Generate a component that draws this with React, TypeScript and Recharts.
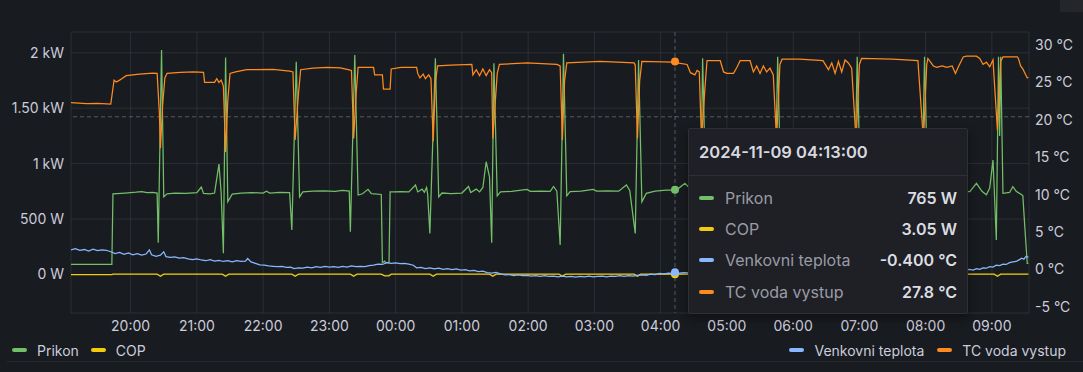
import React from 'react';
import { LineChart, Line, XAxis, YAxis, CartesianGrid, Tooltip, Legend, ReferenceLine } from 'recharts';

// ---------- time frame ----------
const BASE_DAY = [2024, 11, 8];
const BASE_HOUR = 19;
const X_DOMAIN_START = '19:06';
const X_DOMAIN_END_MIN = 873.6;

// ---------- axes ----------
const hourLabels = ['20:00', '21:00', '22:00', '23:00', '00:00', '01:00', '02:00', '03:00', '04:00', '05:00', '06:00', '07:00', '08:00', '09:00'];
const powerTicks = [0, 500, 1000, 1500, 2000];
const powerTickLabels = ['0 W', '500 W', '1 kW', '1.50 kW', '2 kW'];
const powerDomain = [-347, 2187];
const tempTicks = [-5, 0, 5, 10, 15, 20, 25, 30];
const tempTickLabels = ['-5 °C', '0 °C', '5 °C', '10 °C', '15 °C', '20 °C', '25 °C', '30 °C'];
const tempDomain = [-5.84, 31.74];

// ---------- cursor ----------
const cursorTime = '04:13';
const cursorTemp = 20.4;

// ---------- series ----------
const prikon: [string, number][] = [
  ['19:06', 92], ['19:43', 92], ['19:44', 728], ['19:55', 735], ['20:05', 742], ['20:10', 748], ['20:15', 738], ['20:20', 740],
  ['20:24', 735], ['20:25', 287], ['20:28', 2024], ['20:30', 700], ['20:33', 728], ['20:40', 735], ['20:50', 732], ['21:00', 738],
  ['21:04', 788], ['21:06', 732], ['21:12', 728], ['21:16', 735], ['21:20', 996], ['21:22', 735], ['21:24', 191], ['21:26', 1958],
  ['21:28', 656], ['21:32', 725], ['21:40', 735], ['21:50', 738], ['22:00', 735], ['22:03', 752], ['22:06', 735], ['22:15', 740],
  ['22:24', 738], ['22:26', 401], ['22:30', 1919], ['22:33', 700], ['22:36', 745], ['22:45', 752], ['22:55', 755], ['23:05', 750],
  ['23:12', 758], ['23:18', 752], ['23:19', 386], ['23:23', 1979], ['23:26', 717], ['23:30', 728], ['23:35', 768], ['23:38', 730],
  ['23:47', 722], ['23:48', 107], ['23:50', 120], ['23:51', 107], ['23:54', 107], ['23:55', 745], ['23:58', 745], ['00:05', 748],
  ['00:12', 745], ['00:18', 807], ['00:20', 745], ['00:24', 770], ['00:26', 742], ['00:28', 785], ['00:29', 725], ['00:31', 371],
  ['00:36', 1950], ['00:39', 700], ['00:42', 735], ['00:50', 730], ['01:00', 735], ['01:06', 794], ['01:08', 740], ['01:13', 770],
  ['01:16', 745], ['01:19', 785], ['01:22', 1017], ['01:25', 880], ['01:27', 287], ['01:29', 1904], ['01:32', 710], ['01:35', 745],
  ['01:45', 750], ['01:59', 768], ['02:02', 750], ['02:12', 752], ['02:20', 750], ['02:23', 794], ['02:26', 752], ['02:29', 266],
  ['02:32', 1990], ['02:35', 710], ['02:38', 748], ['02:48', 752], ['02:59', 768], ['03:02', 752], ['03:12', 755], ['03:22', 752],
  ['03:29', 807], ['03:32', 758], ['03:37', 371], ['03:40', 1934], ['03:43', 656], ['03:47', 732], ['03:55', 752], ['04:05', 760],
  ['04:11', 762], ['04:13', 765], ['04:16', 775], ['04:22', 822], ['04:28', 760], ['04:34', 745], ['04:36', 400], ['04:38', 1950],
  ['04:41', 700], ['04:45', 740], ['04:55', 780], ['05:05', 750], ['05:15', 770], ['05:25', 745], ['05:35', 780], ['05:43', 380],
  ['05:46', 1964], ['05:49', 690], ['05:55', 740], ['06:10', 755], ['06:25', 750], ['06:35', 790], ['06:45', 760], ['06:55', 380],
  ['06:58', 1964], ['07:01', 690], ['07:10', 745], ['07:25', 755], ['07:40', 750], ['07:50', 760], ['07:56', 380], ['07:59', 1964],
  ['08:02', 690], ['08:10', 760], ['08:20', 780], ['08:30', 750], ['08:40', 747], ['08:46', 822], ['08:51', 750], ['08:55', 720],
  ['08:58', 780], ['09:01', 1032], ['09:02', 800], ['09:04', 311], ['09:06', 1964], ['09:07', 1250], ['09:08', 1964], ['09:10', 732],
  ['09:16', 740], ['09:19', 792], ['09:22', 750], ['09:27', 720], ['09:28', 712], ['09:30', 400], ['09:32', 101], ['09:33', 101],
];

const cop: [string, number][] = [
  ['19:06', 0], ['19:43', 0], ['19:44', 3.1], ['20:24', 3.1], ['20:27', -15], ['20:30', 3.0], ['21:23', 3.0], ['21:26', -15],
  ['21:29', 3.1], ['22:26', 3.0], ['22:29', -15], ['22:32', 3.0], ['23:19', 3.1], ['23:22', -15], ['23:25', 3.0], ['23:47', 3.0],
  ['23:50', -12], ['23:54', -12], ['23:56', 3.0], ['00:31', 3.1], ['00:34', -15], ['00:37', 3.0], ['01:25', 3.0], ['01:28', -15],
  ['01:31', 3.1], ['02:28', 3.0], ['02:31', -15], ['02:34', 3.0], ['03:36', 3.1], ['03:39', -15], ['03:42', 3.0], ['04:13', 3.05],
  ['04:34', 3.0], ['04:37', -15], ['04:40', 3.0], ['05:42', 3.1], ['05:45', -15], ['05:48', 3.0], ['06:54', 3.0], ['06:57', -15],
  ['07:00', 3.1], ['07:55', 3.0], ['07:58', -15], ['08:01', 3.0], ['09:02', 3.1], ['09:05', -15], ['09:08', 3.0], ['09:33', 3.0],
];

const venkovni: [string, number][] = [
  ['19:06', 2.6], ['19:10', 2.75], ['19:14', 2.55], ['19:18', 2.65], ['19:22', 2.45], ['19:26', 2.7], ['19:30', 2.5], ['19:34', 2.6],
  ['19:38', 2.55], ['19:42', 2.35], ['19:46', 2.1], ['19:50', 2.25], ['19:54', 2.0], ['19:58', 2.2], ['20:02', 1.95], ['20:06', 2.1],
  ['20:10', 1.9], ['20:14', 2.05], ['20:17', 2.6], ['20:19', 1.95], ['20:23', 1.75], ['20:27', 1.9], ['20:30', 2.35], ['20:32', 1.7],
  ['20:36', 1.6], ['20:40', 1.65], ['20:44', 1.5], ['20:48', 1.55], ['20:52', 1.4], ['20:56', 1.3], ['21:00', 1.4], ['21:04', 1.25],
  ['21:08', 1.15], ['21:12', 1.3], ['21:16', 1.1], ['21:20', 1.2], ['21:24', 1.05], ['21:28', 1.15], ['21:32', 1.0], ['21:36', 1.15],
  ['21:40', 1.05], ['21:44', 1.1], ['21:46', 1.45], ['21:49', 1.0], ['21:53', 0.8], ['21:57', 0.6], ['22:01', 0.55], ['22:05', 0.45],
  ['22:09', 0.4], ['22:13', 0.35], ['22:17', 0.4], ['22:21', 0.25], ['22:25', 0.3], ['22:28', 0.1], ['22:32', 0.2], ['22:36', 0.15],
  ['22:40', 0.3], ['22:44', 0.2], ['22:48', 0.35], ['22:52', 0.25], ['22:56', 0.4], ['23:00', 0.3], ['23:04', 0.35], ['23:08', 0.25],
  ['23:12', 0.4], ['23:16', 0.3], ['23:20', 0.45], ['23:24', 0.35], ['23:28', 0.4], ['23:32', 0.35], ['23:36', 0.5], ['23:40', 0.55],
  ['23:44', 0.7], ['23:48', 0.65], ['23:52', 0.9], ['23:56', 0.8], ['00:00', 0.85], ['00:04', 0.75], ['00:08', 0.8], ['00:12', 0.7],
  ['00:16', 0.55], ['00:19', 0.2], ['00:23', 0.25], ['00:27', 0.1], ['00:31', 0.2], ['00:35', 0.05], ['00:39', 0.15], ['00:43', 0.0],
  ['00:47', 0.1], ['00:51', -0.05], ['00:55', 0.05], ['00:59', -0.1], ['01:03', -0.05], ['01:07', -0.2], ['01:11', -0.15], ['01:15', -0.3],
  ['01:19', -0.25], ['01:23', -0.45], ['01:27', -0.5], ['01:31', -0.4], ['01:35', -0.6], ['01:39', -0.75], ['01:43', -0.7], ['01:47', -0.85],
  ['01:51', -0.75], ['01:55', -0.85], ['01:59', -0.8], ['02:03', -0.9], ['02:07', -0.85], ['02:11', -0.95], ['02:15', -0.85], ['02:19', -0.95],
  ['02:23', -0.9], ['02:27', -1.0], ['02:31', -0.9], ['02:35', -1.0], ['02:39', -0.95], ['02:43', -1.05], ['02:47', -0.95], ['02:51', -1.0],
  ['02:55', -0.9], ['02:59', -1.0], ['03:03', -0.95], ['03:07', -0.9], ['03:11', -1.0], ['03:15', -0.9], ['03:19', -0.95], ['03:23', -0.85],
  ['03:27', -0.95], ['03:31', -0.85], ['03:35', -0.9], ['03:39', -0.8], ['03:43', -0.75], ['03:47', -0.8], ['03:51', -0.65], ['03:55', -0.7],
  ['03:59', -0.55], ['04:03', -0.6], ['04:07', -0.5], ['04:10', -0.55], ['04:13', -0.4], ['04:17', -0.5], ['04:21', -0.45], ['04:30', -0.5],
  ['04:45', -0.4], ['05:00', -0.45], ['05:15', -0.35], ['05:30', -0.4], ['05:45', -0.3], ['06:00', -0.35], ['06:15', -0.25], ['06:30', -0.3],
  ['06:45', -0.2], ['07:00', -0.25], ['07:15', -0.15], ['07:30', -0.2], ['07:45', -0.1], ['08:00', -0.15], ['08:15', -0.05], ['08:30', -0.1],
  ['08:40', 0.0], ['08:43', -0.1], ['08:46', 0.1], ['08:49', 0.0], ['08:52', 0.2], ['08:55', 0.15], ['08:58', 0.35], ['09:01', 0.3],
  ['09:04', 0.55], ['09:07', 0.5], ['09:10', 0.7], ['09:13', 0.65], ['09:16', 0.9], ['09:19', 1.0], ['09:22', 1.05], ['09:25', 1.3],
  ['09:27', 1.5], ['09:29', 1.35], ['09:31', 1.75], ['09:33', 1.6],
];

const tcVoda: [string, number][] = [
  ['19:06', 22.3], ['19:20', 22.15], ['19:30', 22.2], ['19:42', 22.1], ['19:45', 25.3], ['19:47', 25.05], ['19:50', 25.3], ['19:56', 25.9],
  ['20:08', 26.1], ['20:20', 26.25], ['20:24', 26.2], ['20:26', 21.0], ['20:27', 16.2], ['20:29', 22.0], ['20:31', 25.6], ['20:33', 26.2],
  ['20:45', 26.35], ['20:57', 26.4], ['21:06', 26.35], ['21:07', 25.0], ['21:16', 25.0], ['21:18', 25.5], ['21:20', 25.0], ['21:22', 25.3],
  ['21:24', 24.5], ['21:26', 15.7], ['21:28', 22.6], ['21:30', 26.2], ['21:35', 26.4], ['21:45', 26.7], ['22:09', 26.75], ['22:24', 26.5],
  ['22:27', 26.4], ['22:29', 17.3], ['22:32', 23.5], ['22:34', 26.7], ['22:45', 26.9], ['22:58', 27.0], ['23:10', 26.95], ['23:17', 26.7],
  ['23:20', 26.6], ['23:22', 17.5], ['23:24', 23.0], ['23:26', 27.0], ['23:40', 27.0], ['23:41', 26.0], ['23:48', 26.0], ['23:49', 24.1],
  ['23:55', 24.1], ['23:56', 26.8], ['00:05', 27.0], ['00:19', 27.0], ['00:20', 26.2], ['00:22', 25.6], ['00:25', 26.1], ['00:27', 25.5],
  ['00:30', 26.0], ['00:32', 25.5], ['00:34', 17.1], ['00:36', 25.0], ['00:38', 27.2], ['00:50', 27.3], ['01:09', 27.4], ['01:10', 26.0],
  ['01:13', 26.7], ['01:16', 25.9], ['01:19', 26.8], ['01:22', 25.9], ['01:25', 26.7], ['01:27', 26.3], ['01:28', 17.5], ['01:32', 26.2],
  ['01:34', 27.4], ['01:59', 27.6], ['02:26', 27.4], ['02:29', 27.2], ['02:31', 17.3], ['02:33', 25.2], ['02:35', 27.6], ['03:05', 27.8],
  ['03:36', 27.6], ['03:37', 27.3], ['03:39', 17.5], ['03:41', 25.2], ['03:43', 27.8], ['04:11', 27.7], ['04:13', 27.8], ['04:15', 27.6],
  ['04:24', 27.4], ['04:27', 26.3], ['04:31', 26.0], ['04:33', 26.6], ['04:35', 26.4], ['04:37', 17.3], ['04:40', 24.0], ['04:42', 27.9],
  ['04:54', 27.9], ['04:57', 26.4], ['05:00', 26.2], ['05:06', 26.2], ['05:09', 27.0], ['05:12', 27.9], ['05:21', 27.9], ['05:24', 26.4],
  ['05:27', 27.2], ['05:30', 26.2], ['05:33', 27.2], ['05:36', 26.4], ['05:39', 26.9], ['05:42', 26.0], ['05:45', 17.2], ['05:48', 27.4],
  ['05:50', 28.1], ['06:06', 28.1], ['06:27', 27.9], ['06:32', 26.7], ['06:35', 27.6], ['06:38', 26.2], ['06:41', 27.8], ['06:44', 26.4],
  ['06:47', 28.0], ['06:50', 27.6], ['06:53', 26.9], ['06:57', 17.2], ['07:00', 27.4], ['07:02', 28.2], ['07:30', 28.1], ['07:53', 27.9],
  ['07:58', 17.2], ['08:01', 27.4], ['08:02', 28.2], ['08:07', 27.2], ['08:10', 27.0], ['08:15', 27.2], ['08:19', 27.0], ['08:24', 27.2],
  ['08:27', 26.2], ['08:30', 27.2], ['08:34', 28.4], ['08:37', 28.5], ['08:46', 28.5], ['08:49', 28.2], ['08:52', 27.4], ['08:55', 27.7],
  ['08:58', 27.1], ['09:01', 28.0], ['09:05', 18.6], ['09:08', 27.8], ['09:10', 28.4], ['09:23', 28.4], ['09:24', 28.2], ['09:26', 27.2],
  ['09:28', 26.8], ['09:32', 25.6], ['09:33', 25.7],
];

// ---------- styling ----------
const BG = '#181b1f';
const TEXT = '#ccccdc';
const GRID = 'rgba(204,204,220,0.11)';

const seriesDefs = [
  { key: 'prikon', name: 'Prikon', color: '#73BF69', axis: 'power', unit: 'W', values: prikon },
  { key: 'cop', name: 'COP', color: '#F2CC0C', axis: 'power', unit: 'W', values: cop },
  { key: 'venkovni', name: 'Venkovni teplota', color: '#8AB8FF', axis: 'temp', unit: '°C', values: venkovni },
  { key: 'tc', name: 'TC voda vystup', color: '#FF8A1F', axis: 'temp', unit: '°C', values: tcVoda },
];

function toMin(s: string): number {
  const [h, m] = s.split(':').map(Number);
  const hh = h < BASE_HOUR ? h + 24 : h;
  return (hh - BASE_HOUR) * 60 + m;
}

const table = (() => {
  const map = new Map<number, any>();
  seriesDefs.forEach((s) => {
    s.values.forEach(([time, v]) => {
      const t = toMin(time);
      if (!map.has(t)) map.set(t, { t });
      map.get(t)[s.key] = v;
    });
  });
  return Array.from(map.values()).sort((a, b) => a.t - b.t);
})();

const cursorIndex = table.findIndex((r) => r.t === toMin(cursorTime));
const hourTicks = hourLabels.map(toMin);

const pad = (n: number) => String(n).padStart(2, '0');
function fmtDate(t: number): string {
  const d = new Date(Date.UTC(BASE_DAY[0], BASE_DAY[1] - 1, BASE_DAY[2]) + (BASE_HOUR * 60 + t) * 60000);
  return `${d.getUTCFullYear()}-${pad(d.getUTCMonth() + 1)}-${pad(d.getUTCDate())} ${pad(d.getUTCHours())}:${pad(d.getUTCMinutes())}:00`;
}
function fmtVal(v: number, unit: string): string {
  if (unit === 'W' && Math.abs(v) >= 1000) return `${(v / 1000).toPrecision(3)} kW`;
  return `${Number(v).toPrecision(3)} ${unit}`;
}

const Marker = ({ color }: { color: string }) => (
  <span style={{ display: 'inline-block', width: 15, height: 4, borderRadius: 2, background: color }} />
);

const renderTooltip = (props: any) => {
  const { payload } = props;
  if (!payload || !payload.length) return null;
  const t = payload[0].payload.t;
  return (
    <div style={{ width: 280, height: 186, background: '#1e2025', border: '1px solid #2d3036', borderRadius: 2, boxSizing: 'border-box', fontFamily: 'Inter, sans-serif', boxShadow: '0 4px 8px rgba(0,0,0,0.4)' }}>
      <div style={{ height: 46, lineHeight: '46px', paddingLeft: 10, fontSize: 16.5, fontWeight: 600, color: '#d8d9e0', borderBottom: '1px solid #2d3036' }}>
        {fmtDate(t)}
      </div>
      <div style={{ paddingTop: 6, paddingLeft: 10, paddingRight: 10 }}>
        {seriesDefs.map((s) => {
          const entry = payload.find((p: any) => p.dataKey === s.key);
          const v = entry ? entry.value : undefined;
          return (
            <div key={s.key} style={{ height: 31.3, display: 'flex', alignItems: 'center', fontSize: 16 }}>
              <Marker color={s.color} />
              <span style={{ marginLeft: 11, color: '#9a9ba5', flex: 1 }}>{s.name}</span>
              <span style={{ color: '#dcdde3', fontWeight: 600 }}>{v === undefined ? '' : fmtVal(v, s.unit)}</span>
            </div>
          );
        })}
      </div>
    </div>
  );
};

const renderLegend = () => {
  const item = (s: any, ml: number) => (
    <div key={s.key} style={{ display: 'flex', alignItems: 'center', marginLeft: ml }}>
      <Marker color={s.color} />
      <span style={{ marginLeft: 10, color: TEXT, fontSize: 14 }}>{s.name}</span>
    </div>
  );
  const left = seriesDefs.filter((s) => s.axis === 'power');
  const right = seriesDefs.filter((s) => s.axis === 'temp');
  return (
    <div style={{ width: 1083, height: 24, display: 'flex', justifyContent: 'space-between', alignItems: 'center', fontFamily: 'Inter, sans-serif' }}>
      <div style={{ display: 'flex', alignItems: 'center', paddingLeft: 12 }}>
        {left.map((s, i) => item(s, i === 0 ? 0 : 12))}
      </div>
      <div style={{ display: 'flex', alignItems: 'center', paddingRight: 17 }}>
        {right.map((s, i) => item(s, i === 0 ? 0 : 13))}
      </div>
    </div>
  );
};

export default function App() {
  return (
    <div style={{ position: 'fixed', left: 0, top: 0, width: 1083, height: 372, background: BG, overflow: 'hidden', fontFamily: 'Inter, sans-serif' }}>
      <div style={{ position: 'absolute', right: 0, top: 0, width: 23, height: 12, background: '#24262b' }} />
      <div style={{ position: 'absolute', left: 7, right: 0, top: 361, height: 1, background: '#25282e' }} />
      <LineChart width={1083} height={372} data={table} margin={{ top: 32, right: 0, bottom: 29, left: 8 }}>
        <CartesianGrid stroke={GRID} yAxisId="power" />
        <XAxis
          dataKey="t"
          type="number"
          domain={[toMin(X_DOMAIN_START), X_DOMAIN_END_MIN]}
          allowDataOverflow
          ticks={hourTicks}
          interval={0}
          tickFormatter={(v: number) => hourLabels[hourTicks.indexOf(v)] ?? ''}
          axisLine={false}
          tickLine={false}
          tickSize={0}
          tickMargin={8}
          height={30}
          tick={{ fill: TEXT, fontSize: 14 }}
        />
        <YAxis
          yAxisId="power"
          domain={powerDomain}
          allowDataOverflow
          ticks={powerTicks}
          interval={0}
          tickFormatter={(v: number) => powerTickLabels[powerTicks.indexOf(v)] ?? ''}
          axisLine={false}
          tickLine={false}
          tickSize={0}
          tickMargin={7}
          width={63}
          tick={{ fill: TEXT, fontSize: 14 }}
        />
        <YAxis
          yAxisId="temp"
          orientation="right"
          domain={tempDomain}
          allowDataOverflow
          ticks={tempTicks}
          interval={0}
          tickFormatter={(v: number) => tempTickLabels[tempTicks.indexOf(v)] ?? ''}
          axisLine={false}
          tickLine={false}
          tickSize={0}
          tickMargin={6}
          width={54}
          tick={{ fill: TEXT, fontSize: 14, textAnchor: 'start' }}
        />
        <ReferenceLine yAxisId="temp" y={cursorTemp} stroke="rgba(204,204,220,0.35)" strokeDasharray="4 3" />
        {seriesDefs.map((s) => (
          <Line
            key={s.key}
            yAxisId={s.axis}
            dataKey={s.key}
            name={s.name}
            type="linear"
            stroke={s.color}
            strokeWidth={1.25}
            dot={false}
            connectNulls
            isAnimationActive={false}
            activeDot={{ r: 4, stroke: 'none', fill: s.color }}
          />
        ))}
        <Tooltip
          active
          defaultIndex={cursorIndex}
          position={{ x: 688, y: 128 }}
          isAnimationActive={false}
          cursor={{ stroke: 'rgba(204,204,220,0.35)', strokeDasharray: '4 3', strokeWidth: 1 }}
          content={renderTooltip}
          wrapperStyle={{ zIndex: 10, outline: 'none' }}
        />
        <Legend
          layout="horizontal"
          align="center"
          verticalAlign="middle"
          content={renderLegend}
          wrapperStyle={{ top: 338, left: 0, width: 1083, height: 24 }}
        />
      </LineChart>
    </div>
  );
}
